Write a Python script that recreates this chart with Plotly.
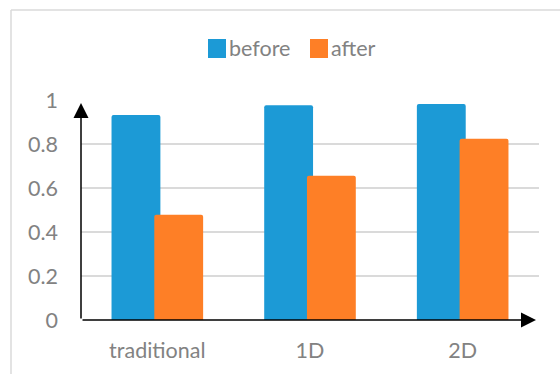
import plotly.graph_objects as go

categories = ["traditional", "1D", "2D"]
before = [0.932, 0.976, 0.982]
after = [0.478, 0.656, 0.824]
y_ticks = [0, 0.2, 0.4, 0.6, 0.8, 1]
y_tick_labels = ["0", "0.2", "0.4", "0.6", "0.8", "1"]

BLUE = "#1c9ad6"
ORANGE = "#fe7f26"
GRAY_TEXT = "#828282"
GRID = "#dadada"
FONT = "Lato"
FS = 21.5

W, H = 560, 374
L, R, T, B = 81, 21, 100, 54
PW, PH = W - L - R, H - T - B


def px_x(px):
    return (px - L) / PW


def px_y(py):
    return (H - B - py) / PH


fig = go.Figure()
fig.add_trace(go.Bar(
    x=categories, y=before, name="before",
    width=0.32, offset=-0.30,
    marker=dict(color=BLUE, line=dict(width=0), cornerradius=2),
))
fig.add_trace(go.Bar(
    x=categories, y=after, name="after",
    width=0.32, offset=-0.02,
    marker=dict(color=ORANGE, line=dict(width=0), cornerradius=2),
))

fig.update_layout(
    width=W, height=H,
    margin=dict(l=L, r=R, t=T, b=B),
    paper_bgcolor="white", plot_bgcolor="white",
    barmode="overlay", showlegend=False,
    font=dict(family=FONT, color=GRAY_TEXT, size=FS),
)
fig.update_xaxes(
    type="category", range=[-0.5, 2.5],
    showgrid=False, showline=False, zeroline=False,
    ticks="", ticklabelstandoff=15,
    tickfont=dict(family=FONT, size=FS, color=GRAY_TEXT),
)
fig.update_yaxes(
    range=[0, 1], tickvals=y_ticks, ticktext=y_tick_labels,
    showgrid=True, gridcolor=GRID, gridwidth=1.8,
    showline=False, zeroline=False,
    ticks="", ticklabelstandoff=22,
    tickfont=dict(family=FONT, size=FS, color=GRAY_TEXT),
)

# axis arrows
arrow = dict(showarrow=True, arrowhead=2, arrowsize=2, arrowwidth=1.5,
             arrowcolor="black", text="", standoff=3)
fig.add_annotation(xref="x domain", yref="y domain", x=0, y=1,
                   axref="x domain", ayref="y domain", ax=0, ay=0, **arrow)
fig.add_annotation(xref="x domain", yref="y domain", x=1, y=0,
                   axref="x domain", ayref="y domain", ax=0, ay=0, **arrow)

# legend
legend_items = [("before", BLUE, 208), ("after", ORANGE, 310)]
for label, color, left in legend_items:
    fig.add_shape(type="rect", xref="paper", yref="paper",
                  x0=px_x(left), x1=px_x(left + 18),
                  y0=px_y(58), y1=px_y(39),
                  fillcolor=color, line=dict(width=0))
    fig.add_annotation(xref="paper", yref="paper",
                       x=px_x(left + 19), y=px_y(48.5),
                       xanchor="left", yanchor="middle", showarrow=False,
                       text=label, font=dict(family=FONT, size=FS, color=GRAY_TEXT))

# outer frame
fig.add_shape(type="line", xref="paper", yref="paper",
              x0=px_x(11), x1=px_x(11), y0=px_y(10), y1=px_y(380),
              line=dict(color=GRID, width=1.5))
fig.add_shape(type="line", xref="paper", yref="paper",
              x0=px_x(11), x1=px_x(565), y0=px_y(10), y1=px_y(10),
              line=dict(color=GRID, width=1.5))

fig.write_html("out.html")
